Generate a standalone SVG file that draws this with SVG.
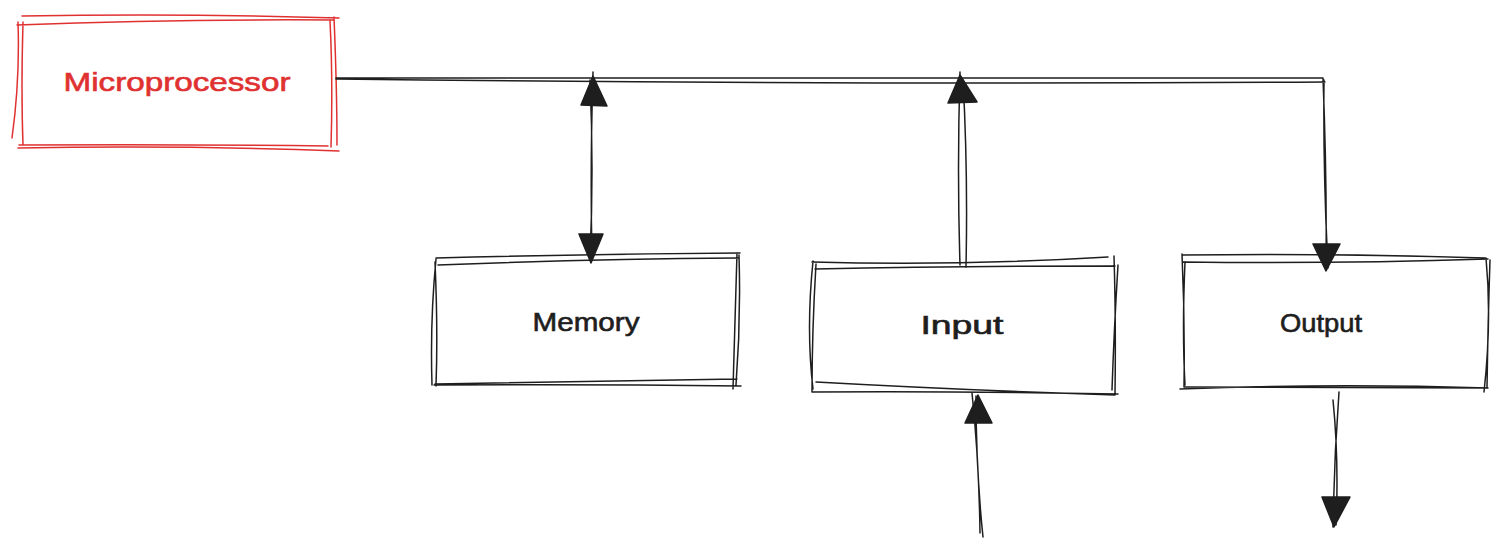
<svg xmlns="http://www.w3.org/2000/svg" width="1507" height="556" viewBox="0 0 1507 556">
<style>
.k{fill:none;stroke:#1e1e1e;stroke-width:1.5;stroke-linecap:round}
.r{fill:none;stroke:#e03131;stroke-width:1.5;stroke-linecap:round}
.h{fill:#1e1e1e;stroke:#1e1e1e;stroke-width:1.5;stroke-linejoin:round}
.t{font-family:"Liberation Sans",Arial,sans-serif;font-size:25px;text-anchor:middle;dominant-baseline:central;stroke-width:0.6}
</style>
<rect width="1507" height="556" fill="#fff"/>
<g id="microprocessor">
<path class="r" d="M22 16 Q180 13 339 18 M17 25 Q175 19 334 20 M18 22 Q20 80 12 138 M23 22 Q21 90 23 145 M330 21 Q333 80 331 147 M334 17 Q337 90 337 145 M19 145 Q180 144 328 146 M18 148 Q180 145 339 151"/>
<text class="t" x="177" y="82" fill="#e03131" stroke="#e03131" textLength="227" lengthAdjust="spacingAndGlyphs">Microprocessor</text>
</g>
<g id="memory">
<path class="k" d="M436 258 Q590 254 740 253 M438 265 Q590 259 738 258 M436 259 Q430 320 432 385 M435 262 Q438 330 436 386 M737 253 Q735 320 733 389 M739 255 Q741 320 736 385 M434 385 Q590 384 741 386 M435 384 Q590 381 737 379"/>
<text class="t" x="586" y="322" fill="#1e1e1e" stroke="#1e1e1e" textLength="107" lengthAdjust="spacingAndGlyphs">Memory</text>
</g>
<g id="input">
<path class="k" d="M812 262 Q960 266 1108 257 M815 269 Q960 266 1115 266 M813 261 Q806 330 813 389 M816 264 Q812 330 812 392 M1114 256 Q1116 320 1115 395 M1118 265 Q1114 330 1112 390 M812 392 Q960 391 1118 394 M816 382 Q960 390 1115 395"/>
<text class="t" x="962" y="325" fill="#1e1e1e" stroke="#1e1e1e" textLength="83" lengthAdjust="spacingAndGlyphs">Input</text>
</g>
<g id="output">
<path class="k" d="M1182 255 Q1335 253 1485 258 M1183 262 Q1335 264 1488 259 M1182 254 Q1185 320 1184 387 M1185 262 Q1182 330 1185 385 M1486 258 Q1492 320 1484 392 M1490 260 Q1488 320 1487 388 M1180 389 Q1335 383 1488 388 M1185 387 Q1335 387 1486 388"/>
<text class="t" x="1321" y="323" fill="#1e1e1e" stroke="#1e1e1e" textLength="82" lengthAdjust="spacingAndGlyphs">Output</text>
</g>
<g id="connectors">
<path class="k" d="M336 78 Q830 77 1323 78 M336 79 Q830 85 1325 82 M1323 78 Q1327 180 1326 265 M1324 80 Q1323 170 1328 268"/>
<path class="k" d="M593 72 Q590 170 592 255 M590 80 Q594 170 590 258"/>
<path class="h" d="M593 76 L581 105 L607 106 Z M591 263 L579 234 L603 234 Z"/>
<path class="k" d="M960 72 Q957 170 960 265 M963 80 Q968 170 966 267"/>
<path class="h" d="M960 75 L948 103 L977 102 Z"/>
<path class="k" d="M983 537 Q976 470 976 396 M980 533 Q979 460 972 393"/>
<path class="h" d="M978 395 L965 423 L992 423 Z"/>
<path class="k" d="M1339 392 Q1334 460 1333 527 M1333 400 Q1339 460 1336 525"/>
<path class="h" d="M1326 271 L1313 244 L1340 244 Z M1334 527 L1322 497 L1350 497 Z"/>
</g>
</svg>
